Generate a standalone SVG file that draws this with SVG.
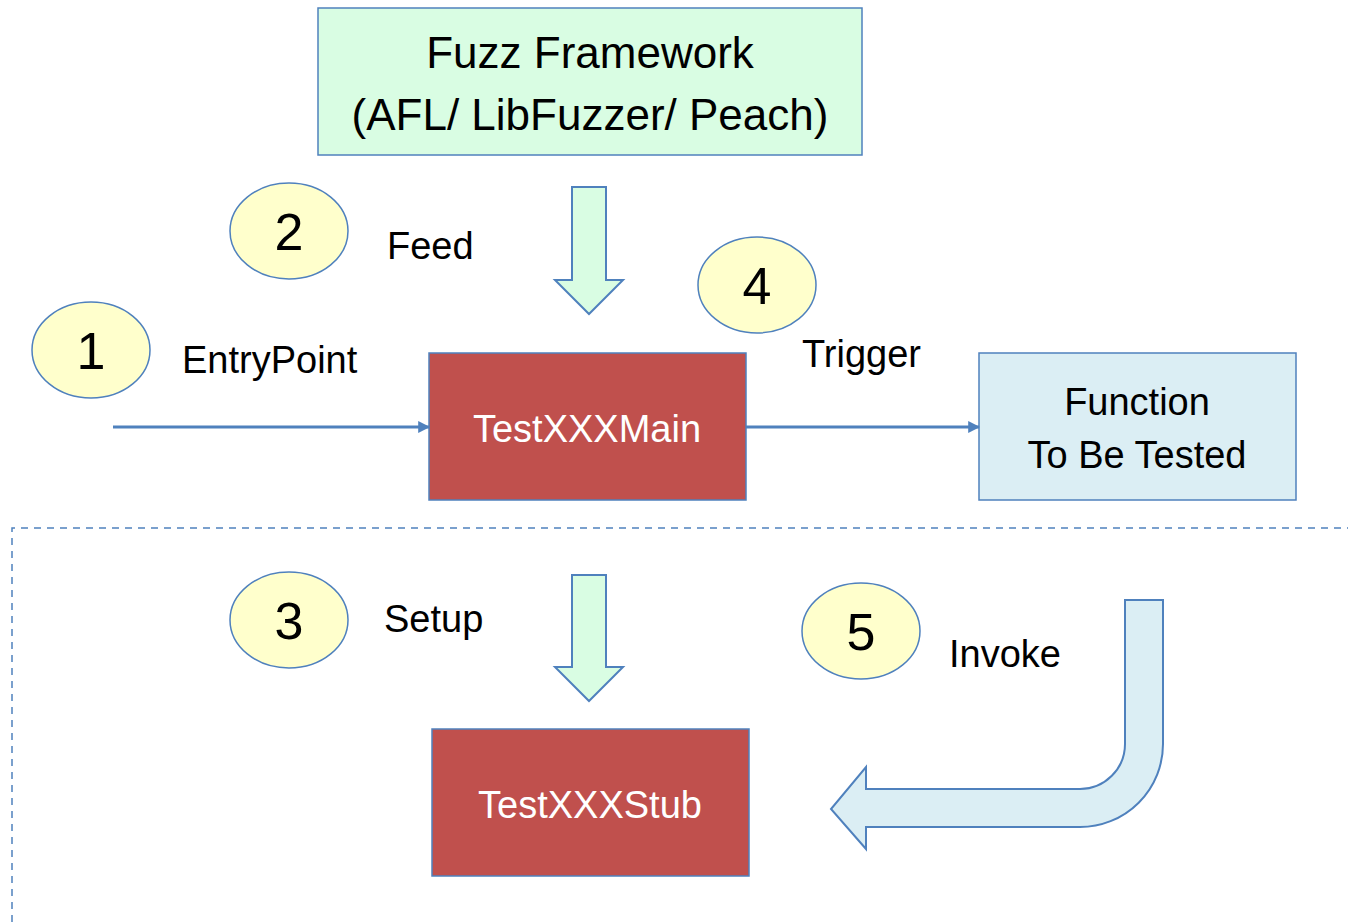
<svg xmlns="http://www.w3.org/2000/svg" width="1348" height="922" viewBox="0 0 1348 922">
<style>
.box{stroke:#4f81bd;stroke-width:1.5}
.red{fill:#c0504d}
.num{fill:#ffffcc;stroke:#4f81bd;stroke-width:1.5}
.t{font-family:"Liberation Sans",Arial,sans-serif;text-anchor:middle;fill:#000}
.lbl{font-family:"Liberation Sans",Arial,sans-serif;fill:#000;font-size:38px}
.w{fill:#fff}
.conn{stroke:#4f81bd;stroke-width:3;fill:none}
.ga{fill:#d9fde3;stroke:#4f81bd;stroke-width:2}
.ba{fill:#dbeef4;stroke:#4f81bd;stroke-width:2}
</style>
<defs>
<marker id="ah" viewBox="0 0 10 10" refX="9" refY="5" markerWidth="4" markerHeight="4" orient="auto" markerUnits="strokeWidth">
<path d="M0,0 L10,5 L0,10 z" fill="#4f81bd"/>
</marker>
</defs>
<rect width="1348" height="922" fill="#fff"/>
<path d="M12,922 V528 H1348" fill="none" stroke="#4f81bd" stroke-width="1.5" stroke-dasharray="7,6"/>
<g id="fuzz">
<rect x="318" y="8" width="544" height="147" fill="#d9fde3" class="box"/>
<text class="t" x="590" y="68" font-size="44">Fuzz Framework</text>
<text class="t" x="590" y="130" font-size="44">(AFL/ LibFuzzer/ Peach)</text>
</g>
<g id="main">
<rect x="429" y="353" width="317" height="147" class="box red"/>
<text class="t w" x="587" y="442" font-size="38">TestXXXMain</text>
</g>
<g id="func">
<rect x="979" y="353" width="317" height="147" fill="#dbeef4" class="box"/>
<text class="t" x="1137" y="415" font-size="38">Function</text>
<text class="t" x="1137" y="468" font-size="38">To Be Tested</text>
</g>
<g id="stub">
<rect x="432" y="729" width="317" height="147" class="box red"/>
<text class="t w" x="590" y="818" font-size="38">TestXXXStub</text>
</g>
<g id="n1"><ellipse cx="91" cy="350" rx="59" ry="48" class="num"/><text class="t" x="91" y="369" font-size="52">1</text></g>
<g id="n2"><ellipse cx="289" cy="231" rx="59" ry="48" class="num"/><text class="t" x="289" y="250" font-size="52">2</text></g>
<g id="n3"><ellipse cx="289" cy="620" rx="59" ry="48" class="num"/><text class="t" x="289" y="639" font-size="52">3</text></g>
<g id="n4"><ellipse cx="757" cy="285" rx="59" ry="48" class="num"/><text class="t" x="757" y="304" font-size="52">4</text></g>
<g id="n5"><ellipse cx="861" cy="631" rx="59" ry="48" class="num"/><text class="t" x="861" y="650" font-size="52">5</text></g>
<g id="labels">
<text class="lbl" x="387" y="259">Feed</text>
<text class="lbl" x="182" y="373">EntryPoint</text>
<text class="lbl" x="802" y="367">Trigger</text>
<text class="lbl" x="384" y="632">Setup</text>
<text class="lbl" x="949" y="667">Invoke</text>
</g>
<g id="connectors">
<line x1="113" y1="427" x2="429" y2="427" class="conn" marker-end="url(#ah)"/>
<line x1="746" y1="427" x2="979" y2="427" class="conn" marker-end="url(#ah)"/>
<path d="M572,187 H606 V280 H623 L589,314 L555,280 H572 Z" class="ga"/>
<path d="M572,575 H606 V667 H623 L589,701 L555,667 H572 Z" class="ga"/>
<path d="M1125,600 H1163 V744 A83,83 0 0 1 1080,827 H866 V849 L831,809 L866,767 V789 H1080 A45,45 0 0 0 1125,744 Z" class="ba"/>
</g>
</svg>
